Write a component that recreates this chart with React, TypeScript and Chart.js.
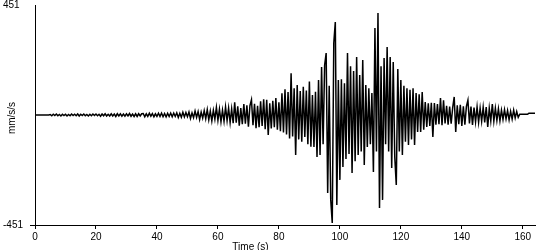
import React, { useEffect, useRef } from "react";
import { Chart, registerables } from "chart.js";

Chart.register(...registerables);

// ---- data (mm/s/s), one sample every SAMPLE_INTERVAL seconds from t = 0 ----
const SAMPLE_INTERVAL = 0.5;

// 0 – 45 s : pre-event noise
const quietValues = [
  0, 0, 0, 0, 0, 0, 0, 0, 0, 0,
  2, -3, 3, -2, 4, -3, 2, -4, 3, -2,
  3, -4, 2, -3, 4, -2, 3, -3, 4, -4,
  3, -2, 4, -3, 2, -4, 3, -3, 4, -2,
  4, -3, 3, -5, 4, -3, 5, -4, 3, -4,
  5, -4, 4, -6, 5, -4, 5, -5, 4, -5,
  5, -4, 6, -5, 4, -6, 5, -6, 5, -4, 5,
  6, -7, 5, -6, 7, -5, 6, -7, 5, -6,
  7, -6, 8, -7, 6, -8, 7, -6, 8, -7,
];

// 45.5 – 90.5 s : onset / build-up
const onsetValues = [
  8, -6, 9, -10, 7, -9, 11, -8, 10, -7,
  12, -14, 9, -11, 16, -10, 14, -18, 12, -13,
  18, -15, 22, -20, 16, -24, 19, -17, 31, -22,
  24, -28, 20, -26, 33, -23, 28, -31, 25, -34,
  52, -32, 36, -44, 28, -38, 45, -36, 40, -48, 38,
  62, -42, 46, -54, 38, -50, 56, -45, 64, -58,
  62, -82, 48, -55, 58, -50, 70, -60, 52, -66,
  89, -72, 105, -80, 94, -96, 171, -88, 110, -164,
  123, -100, 98, -110, 116, -90, 100, -120, 137, -130,
];

// 91 – 123.5 s : strong motion
const mainShockValues = [
  82, -131, 95, -172, 143, -164, 197, -120, 205, 254,
  -320, 120, -348, -443, 295, 381, -369, 143, -266, 147,
  -213, 130, -180, 254, -160, 200, -238, 180, -190, 238,
  -164, 164, -150, 225, -205, 123, -131, 110, -120, 90, -234,
  357, -150, 418, -381, 200, -348, 234, -120, 279, -150, 238, -217, 217, -172, -287, 189, -150,
  143, -164, 120, -110, 110, -123, 103, -100,
];

// 124 – 145.5 s : coda
const codaValues = [
  110, -123, 90, -70, 85, -70, 94, -60, 53, -49,
  48, -45, 50, -90, 49, -40, 45, -38, 70, -42,
  60, -35, 38, -40, 35, -36, 30, 74, -70, 40,
  -38, 42, -45, 36, -40, 35, 61, -35, 35, -41,
  30, -28, 33, -30,
];

// 146 – 164 s : tail
const tailValues = [
  28, -26, 32, -30, 33, -49, 28, -24, 45, -25,
  28, -22, 25, -24, 20, -18, 22, -16, 18, -20,
  15, -17, 20, -12, 14, -10, 3, 3, 3, 3,
  3, 3, 7, 7, 7, 7, 7,
];

const xTickValues = [0, 20, 40, 60, 80, 100, 120, 140, 160];
const yTickValues = [-451, 451];
const X_MIN = 0;
const X_MAX = 164;
const Y_MIN = -451;
const Y_MAX = 451;
const X_TITLE = "Time (s)";
const Y_TITLE = "mm/s/s";

const FONT_FAMILY = '"Liberation Sans", Arial, sans-serif';

const axisTitlesPlugin = {
  id: "axisTitles",
  afterDraw(chart: any) {
    const c = chart.ctx;
    c.save();
    c.fillStyle = "#000";
    c.font = `10px ${FONT_FAMILY}`;
    c.textAlign = "center";
    c.textBaseline = "top";
    c.fillText(X_TITLE, 250.5, 242);
    c.translate(14.5, 118);
    c.rotate(-Math.PI / 2);
    c.textBaseline = "alphabetic";
    c.fillText(Y_TITLE, 0, 0);
    c.restore();
  },
};

export default function App() {
  const canvasRef = useRef<HTMLCanvasElement | null>(null);

  useEffect(() => {
    const canvas = canvasRef.current;
    if (!canvas) return;
    const values = [
      ...quietValues,
      ...onsetValues,
      ...mainShockValues,
      ...codaValues,
      ...tailValues,
    ];
    const points = values.map((v, i) => ({ x: i * SAMPLE_INTERVAL, y: v }));
    const font = { family: FONT_FAMILY, size: 10 };

    const chart = new Chart(canvas, {
      type: "line",
      data: {
        datasets: [
          {
            data: points,
            borderColor: "#000",
            borderWidth: 1.5,
            pointRadius: 0,
            tension: 0,
            fill: false,
          },
        ],
      },
      options: {
        animation: false,
        responsive: false,
        devicePixelRatio: 1,
        parsing: false,
        events: [],
        layout: { padding: { left: 3, top: 5, right: 15, bottom: 0 } },
        plugins: {
          legend: { display: false },
          tooltip: { enabled: false },
          title: { display: false },
        },
        scales: {
          x: {
            type: "linear",
            min: X_MIN,
            max: X_MAX,
            afterBuildTicks: (s: any) => {
              s.ticks = xTickValues.map((v) => ({ value: v }));
            },
            afterFit: (s: any) => {
              s.height = 25;
              s.paddingLeft = 0;
              s.paddingRight = 0;
            },
            ticks: {
              color: "#000",
              font,
              padding: 2,
              maxRotation: 0,
              autoSkip: false,
              callback: (v: any) => String(v),
            },
            grid: {
              drawOnChartArea: false,
              drawTicks: true,
              tickLength: 4,
              tickColor: "#000",
            },
            border: { color: "#000", width: 1 },
          },
          y: {
            type: "linear",
            min: Y_MIN,
            max: Y_MAX,
            afterBuildTicks: (s: any) => {
              s.ticks = yTickValues.map((v) => ({ value: v }));
            },
            afterFit: (s: any) => {
              s.width = 32;
              s.paddingTop = 0;
              s.paddingBottom = 0;
            },
            ticks: {
              color: "#000",
              font,
              crossAlign: "far",
              autoSkip: false,
              callback: (v: any) => String(v),
            },
            grid: {
              drawOnChartArea: false,
              drawTicks: true,
              tickLength: 5,
              tickColor: (ctx: any) =>
                ctx.tick && ctx.tick.value < 0 ? "#000" : "rgba(0,0,0,0)",
            },
            border: { color: "#000", width: 1 },
          },
        },
      },
      plugins: [axisTitlesPlugin],
    } as any);

    return () => chart.destroy();
  }, []);

  return (
    <canvas
      ref={canvasRef}
      width={550}
      height={250}
      style={{ position: "absolute", left: 0, top: 0, background: "#fff" }}
    />
  );
}
